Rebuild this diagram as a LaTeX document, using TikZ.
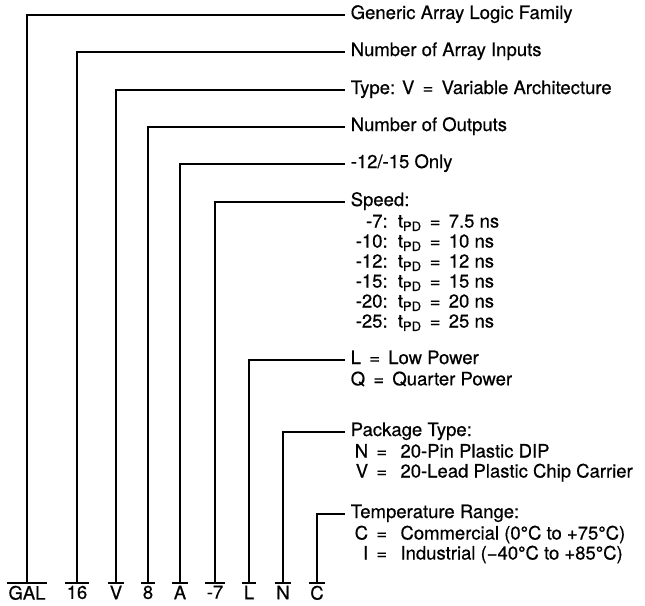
\documentclass[tikz,border=0pt]{standalone}
\usepackage{fontspec}
\setmainfont{TeX Gyre Heros}
\usetikzlibrary{positioning}
\newcommand{\pfont}{\fontsize{18.5}{20}\selectfont\addfontfeature{FakeBold=0.5}}
\newcommand{\eq}{\,=\,}
\tikzset{
  lbl/.style={anchor=north,inner xsep=1pt,inner ysep=2pt,font=\pfont},
  head/.style={anchor=west,inner xsep=5pt,inner ysep=0pt,text height=14pt,text depth=6pt,font=\pfont},
  sub/.style={anchor=north west,inner sep=0pt,font=\pfont,align=left}
}

\begin{document}
\begin{tikzpicture}[x=1pt,y=-1pt,line width=1.5pt]

\useasboundingbox (0,0) rectangle (645,605);

% part number fields
\node [lbl] (lgal) at (27,583) {GAL};
\node [lbl] (l16) at (77,583) {16};
\node [lbl] (lv) at (116,583) {V};
\node [lbl] (l8) at (148,583) {8};
\node [lbl] (la) at (180,583) {A};
\node [lbl] (l7) at (215,583) {-7};
\node [lbl] (ll) at (249,583) {L};
\node [lbl] (ln) at (283,583) {N};
\node [lbl] (lc) at (317,583) {C};

% descriptions
\node [head] (tgal) at (345,15) {Generic Array Logic Family};
\node [head] (t16) at (345,52) {Number of Array Inputs};
\node [head] (tv) at (345,90) {Type: V \eq{} Variable Architecture};
\node [head] (t8) at (345,127) {Number of Outputs};
\node [head] (ta) at (345,164) {-12/-15 Only};
\node [head] (t7) at (345,202) {Speed:};
\node [sub] (speeds) at ([xshift=10pt]t7.south west) {%
  \begin{tabular}{@{}r@{\ \ }l@{}}
  -7: & t\textsubscript{PD} \eq{} 7.5 ns\\
  -10: & t\textsubscript{PD} \eq{} 10 ns\\
  -12: & t\textsubscript{PD} \eq{} 12 ns\\
  -15: & t\textsubscript{PD} \eq{} 15 ns\\
  -20: & t\textsubscript{PD} \eq{} 20 ns\\
  -25: & t\textsubscript{PD} \eq{} 25 ns
  \end{tabular}};
\node [head] (tl) at (345,360) {L \eq{} Low Power};
\node [sub] (power) at ([xshift=5pt]tl.south west) {Q \eq{} Quarter Power};
\node [head] (tn) at (345,432) {Package Type:};
\node [sub] (pkgs) at ([xshift=9pt]tn.south west) {%
  \begin{tabular}{@{}r@{\ \ }l@{}}
  N \eq{} & 20-Pin Plastic DIP\\
  V \eq{} & 20-Lead Plastic Chip Carrier
  \end{tabular}};
\node [head] (tc) at (345,514) {Temperature Range:};
\node [sub] (temps) at ([xshift=9pt]tc.south west) {%
  \begin{tabular}{@{}r@{\ \ }l@{}}
  C \eq{} & Commercial (0°C to +75°C)\\
  I \eq{} & Industrial (−40°C to +85°C)
  \end{tabular}};

% bars over the fields
\foreach \f in {lgal,l16,lv,l8,la,l7,ll,ln,lc}
  \draw (\f.north west) -- (\f.north east);

\draw (lgal.north) |- (tgal.west);
\draw (l16.north) |- (t16.west);
\draw (lv.north) |- (tv.west);
\draw (l8.north) |- (t8.west);
\draw (la.north) |- (ta.west);
\draw (l7.north) |- (t7.west);
\draw (ll.north) |- (tl.west);
\draw (ln.north) |- (tn.west);
\draw (lc.north) |- (tc.west);

\end{tikzpicture}
\end{document}
